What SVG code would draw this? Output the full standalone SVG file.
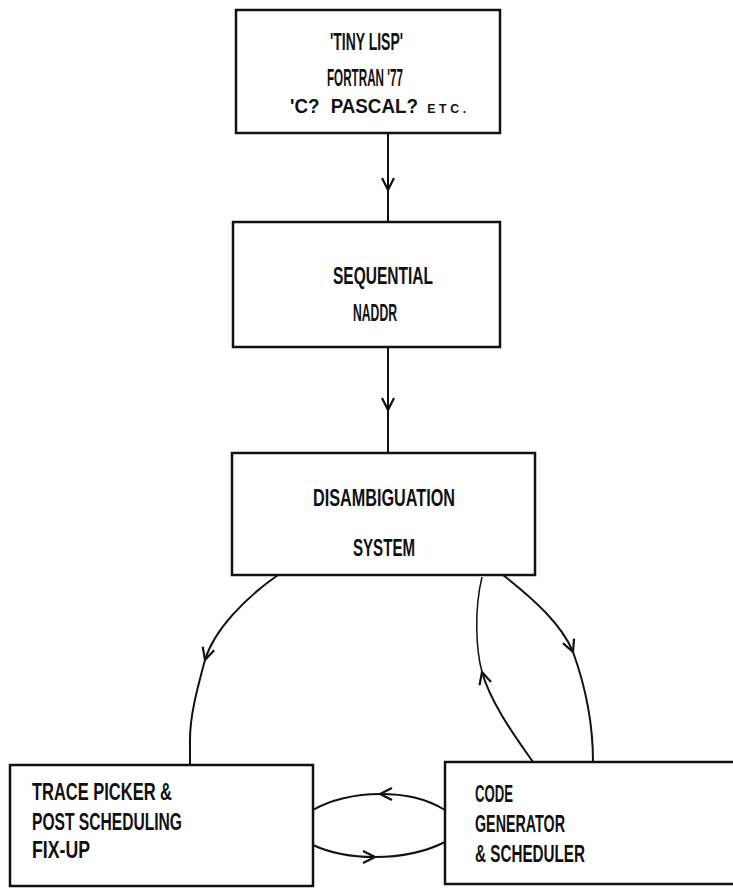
<svg xmlns="http://www.w3.org/2000/svg" width="733" height="888" viewBox="0 0 733 888">
<style>
.box{fill:#fff;stroke:#111;stroke-width:2.5}
.t{font-family:"Liberation Sans","DejaVu Sans",sans-serif;font-size:23px;font-weight:bold;fill:#111}
.m{font-size:20px}
.s{font-size:13px;letter-spacing:4px}
.c{fill:none;stroke:#111;stroke-width:2}
.c2{fill:none;stroke:#111;stroke-width:1.5}
</style>
<defs>
<marker id="v" markerUnits="userSpaceOnUse" markerWidth="20" markerHeight="20" viewBox="-14 -10 20 20" refX="0" refY="0" orient="auto">
<path d="M-12,-6 L0,0 L-12,6" fill="none" stroke="#111" stroke-width="2.2"/>
</marker>
</defs>
<rect width="733" height="888" fill="#fff"/>
<g id="connectors">
<path class="c" d="M388,133 L388,190" marker-end="url(#v)"/>
<path class="c" d="M388,190 L388,222"/>
<path class="c" d="M388,347 L388,410" marker-end="url(#v)"/>
<path class="c" d="M388,410 L388,453"/>
<path class="c" d="M278,575 C245,598 214,630 205,660" marker-end="url(#v)"/>
<path class="c" d="M205,660 C197,690 190,715 190,740 L190,767"/>
<path class="c" d="M503,575 C535,600 562,625 573,652" marker-end="url(#v)"/>
<path class="c" d="M573,652 C585,685 593,720 593,762"/>
<path class="c" d="M533,762 C510,730 490,700 482,672" marker-end="url(#v)"/>
<path class="c2" d="M482,672 C476,650 474,610 482,577"/>
<path class="c" d="M445,810 C425,798 405,794 380,794" marker-end="url(#v)"/>
<path class="c" d="M380,794 C355,794 330,800 313,810"/>
<path class="c" d="M313,845 C330,853 350,857 375,857" marker-end="url(#v)"/>
<path class="c" d="M375,857 C400,857 425,852 445,842"/>
</g>
<g id="node-languages">
<rect class="box" x="236" y="10" width="264" height="123"/>
<text class="t" x="330" y="50" textLength="73" lengthAdjust="spacingAndGlyphs">'TINY LISP'</text>
<text class="t" x="327" y="86" textLength="76" lengthAdjust="spacingAndGlyphs">FORTRAN '77</text>
<text class="t m" x="290" y="113" textLength="180" lengthAdjust="spacingAndGlyphs"><tspan>'C?</tspan><tspan dx="12">PASCAL?</tspan><tspan class="s" dx="10">ETC.</tspan></text>
</g>
<g id="node-naddr">
<rect class="box" x="233" y="222" width="267" height="125"/>
<text class="t" x="333" y="284" textLength="100" lengthAdjust="spacingAndGlyphs">SEQUENTIAL</text>
<text class="t" x="353" y="321" textLength="44" lengthAdjust="spacingAndGlyphs">NADDR</text>
</g>
<g id="node-disambiguation">
<rect class="box" x="232" y="453" width="303" height="122"/>
<text class="t" x="313" y="506" textLength="142" lengthAdjust="spacingAndGlyphs">DISAMBIGUATION</text>
<text class="t" x="353" y="556" textLength="62" lengthAdjust="spacingAndGlyphs">SYSTEM</text>
</g>
<g id="node-trace-picker">
<rect class="box" x="10" y="765" width="303" height="121"/>
<text class="t" x="32" y="800" textLength="140" lengthAdjust="spacingAndGlyphs">TRACE PICKER &amp;</text>
<text class="t" x="32" y="830" textLength="150" lengthAdjust="spacingAndGlyphs">POST SCHEDULING</text>
<text class="t" x="32" y="858" textLength="58" lengthAdjust="spacingAndGlyphs">FIX-UP</text>
</g>
<g id="node-code-generator">
<rect class="box" x="445" y="762" width="300" height="122"/>
<text class="t" x="475" y="802" textLength="38" lengthAdjust="spacingAndGlyphs">CODE</text>
<text class="t" x="475" y="832" textLength="90" lengthAdjust="spacingAndGlyphs">GENERATOR</text>
<text class="t" x="475" y="862" textLength="110" lengthAdjust="spacingAndGlyphs">&amp; SCHEDULER</text>
</g>
</svg>
